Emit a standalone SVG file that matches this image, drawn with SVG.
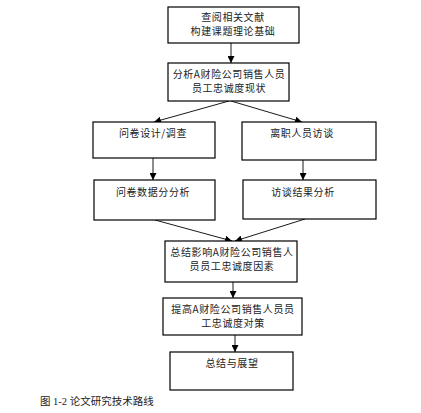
<svg xmlns="http://www.w3.org/2000/svg" width="421" height="413" viewBox="0 0 421 413">
<style>
.box{fill:#fff;stroke:#000;stroke-width:1.2}
.t{font-family:"Noto Sans CJK SC","Liberation Sans",sans-serif;font-size:10px;fill:#222;text-anchor:middle;letter-spacing:0.6px}
.c{stroke:#000;stroke-width:0.9;fill:none;marker-end:url(#ah)}
.cap{font-family:"Liberation Serif","Noto Sans CJK SC",serif;font-size:10.5px;fill:#222}
</style>
<defs>
<marker id="ah" viewBox="0 0 10 10" refX="10" refY="5" markerWidth="7" markerHeight="7" markerUnits="userSpaceOnUse" orient="auto">
<path d="M0,0 L10,5 L0,10 z" fill="#000"/>
</marker>
</defs>
<rect width="421" height="413" fill="#fff"/>
<g id="connectors">
<line class="c" x1="231" y1="43" x2="231" y2="63"/>
<line class="c" x1="229" y1="101" x2="154" y2="122"/>
<line class="c" x1="231" y1="101" x2="302" y2="122"/>
<line class="c" x1="153" y1="158" x2="153" y2="180"/>
<line class="c" x1="303" y1="160" x2="303" y2="180"/>
<line class="c" x1="155" y1="220" x2="232" y2="241"/>
<line class="c" x1="305" y1="219" x2="235" y2="241"/>
<line class="c" x1="233" y1="282" x2="233" y2="298"/>
<line class="c" x1="235" y1="335" x2="235" y2="352"/>
</g>
<g id="n1"><rect class="box" x="168" y="7" width="131" height="36"/>
<text class="t" x="233" y="21">查阅相关文献</text><text class="t" x="233" y="35">构建课题理论基础</text></g>
<g id="n2"><rect class="box" x="168" y="63" width="121" height="38"/>
<text class="t" x="229" y="78">分析A财险公司销售人员</text><text class="t" x="229" y="92">员工忠诚度现状</text></g>
<g id="n3"><rect class="box" x="93" y="122" width="122" height="36"/>
<text class="t" x="153" y="137">问卷设计/调查</text></g>
<g id="n4"><rect class="box" x="242" y="122" width="134" height="38"/>
<text class="t" x="302" y="137">离职人员访谈</text></g>
<g id="n5"><rect class="box" x="94" y="180" width="121" height="40"/>
<text class="t" x="153" y="196">问卷数据分分析</text></g>
<g id="n6"><rect class="box" x="243" y="180" width="133" height="39"/>
<text class="t" x="303" y="196">访谈结果分析</text></g>
<g id="n7"><rect class="box" x="165" y="241" width="132" height="41"/>
<text class="t" x="232" y="256">总结影响A财险公司销售人</text><text class="t" x="232" y="270">员员工忠诚度因素</text></g>
<g id="n8"><rect class="box" x="163" y="298" width="139" height="37"/>
<text class="t" x="233" y="313">提高A财险公司销售人员员</text><text class="t" x="233" y="327">工忠诚度对策</text></g>
<g id="n9"><rect class="box" x="170" y="352" width="123" height="38"/>
<text class="t" x="232" y="367">总结与展望</text></g>
<text class="cap" x="40" y="405">图 1-2 论文研究技术路线</text>
</svg>
